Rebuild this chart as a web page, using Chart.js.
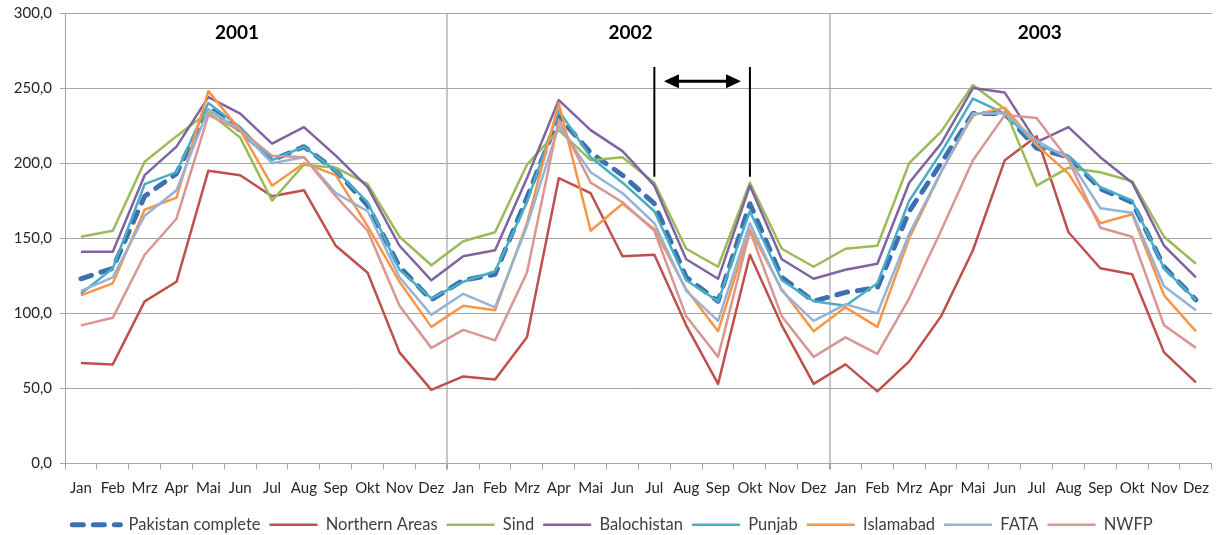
<!DOCTYPE html>
<html>
<head>
<meta charset="utf-8">
<script src="https://cdn.jsdelivr.net/npm/chart.js@4/dist/chart.umd.min.js"></script>
<style>
  html, body { margin: 0; padding: 0; background: #ffffff; }
  #wrap { width: 1219px; height: 535px; }
</style>
</head>
<body>
<div id="wrap"><canvas id="c" width="1219" height="535"></canvas></div>
<script>
// ---------- data ----------
const months = [
  'Jan','Feb','Mrz','Apr','Mai','Jun','Jul','Aug','Sep','Okt','Nov','Dez',
  'Jan','Feb','Mrz','Apr','Mai','Jun','Jul','Aug','Sep','Okt','Nov','Dez',
  'Jan','Feb','Mrz','Apr','Mai','Jun','Jul','Aug','Sep','Okt','Nov','Dez'
];
const years = ['2001', '2002', '2003'];
const seriesNames = ['Pakistan complete', 'Northern Areas', 'Sind', 'Balochistan', 'Punjab', 'Islamabad', 'FATA', 'NWFP'];

const pakistanComplete = [123,130,178,193,237,222,202,211,195,172,131,109, 122,126,177,231,207,192,173,124,108,173,124,108, 114,117,168,200,233,233,210,204,183,174,131,109];
const northernAreas    = [ 67, 66,108,121,195,192,178,182,145,127, 74, 49,  58, 56, 84,190,180,138,139, 92, 53,139, 92, 53,  66, 48, 68, 98,142,202,218,154,130,126, 74, 54];
const sind             = [151,155,201,218,234,217,175,199,197,186,151,132, 148,154,199,222,202,204,187,143,131,187,143,131, 143,145,200,221,252,236,185,197,194,188,151,133];
const balochistan      = [141,141,192,211,244,233,213,224,205,184,145,122, 138,142,190,242,222,208,185,136,123,185,136,123, 129,133,187,213,250,247,214,224,204,187,145,124];
const punjab           = [113,130,186,194,240,224,202,211,195,174,129,110, 121,128,174,235,204,187,168,122,108,168,122,108, 105,120,175,207,243,233,212,205,184,175,130,109];
const islamabad        = [112,120,169,177,248,222,185,200,192,158,121, 91, 105,102,160,240,155,173,156,116, 88,156,116, 88, 104, 91,150,194,232,237,212,193,160,166,112, 88];
const fata             = [115,124,165,182,236,222,200,204,180,168,124, 99, 113,104,158,225,194,180,160,115, 95,160,115, 95, 106,100,153,194,233,233,215,203,170,167,118,102];
const nwfp             = [ 92, 97,139,163,232,222,205,204,178,155,105, 77,  89, 82,127,229,187,174,155, 98, 71,155, 98, 71,  84, 73,110,155,202,232,230,202,157,151, 92, 77];

const seriesValues = [pakistanComplete, northernAreas, sind, balochistan, punjab, islamabad, fata, nwfp];
const seriesColors = ['#3C70B0', '#C0504D', '#9BBB59', '#8064A2', '#4BACC6', '#F79646', '#95B3D7', '#D99694'];

// ---------- chart ----------
const FONT = 'Lato, "Open Sans", sans-serif';

const datasets = seriesNames.map((name, i) => ({
  label: name,
  data: seriesValues[i],
  borderColor: seriesColors[i],
  backgroundColor: seriesColors[i],
  borderWidth: i === 0 ? 5 : 2.5,
  borderDash: i === 0 ? [11, 10] : [],
  borderCapStyle: i === 0 ? 'round' : 'butt',
  borderJoinStyle: 'round',
  pointRadius: 0,
  pointHoverRadius: 0,
  tension: 0,
  fill: false,
  order: seriesNames.length - i
}));

const annotationPlugin = {
  id: 'yearsAndArrow',
  afterDatasetsDraw(chart) {
    const ctx = chart.ctx;
    const xs = chart.scales.x, ys = chart.scales.y;
    // year labels
    const yearPos = [4.9, 17.25, 30.1];
    ctx.save();
    ctx.fillStyle = '#000000';
    ctx.font = 'bold 19px ' + FONT;
    ctx.textAlign = 'center';
    ctx.textBaseline = 'middle';
    years.forEach((y, i) => {
      ctx.fillText(y, xs.getPixelForValue(yearPos[i]), ys.getPixelForValue(287));
    });
    // bracket lines
    ctx.strokeStyle = '#000000';
    ctx.lineWidth = 2;
    const xa = xs.getPixelForValue(18), xb = xs.getPixelForValue(21);
    const yTop = ys.getPixelForValue(264), yBot = ys.getPixelForValue(191);
    ctx.beginPath();
    ctx.moveTo(xa, yTop); ctx.lineTo(xa, yBot);
    ctx.moveTo(xb, yTop); ctx.lineTo(xb, yBot);
    ctx.stroke();
    // double arrow
    const ay = ys.getPixelForValue(254.5);
    const x1 = xs.getPixelForValue(18.3), x2 = xs.getPixelForValue(20.72);
    const hl = 15, hw = 7;
    ctx.lineWidth = 3;
    ctx.beginPath();
    ctx.moveTo(x1 + hl - 2, ay); ctx.lineTo(x2 - hl + 2, ay);
    ctx.stroke();
    ctx.fillStyle = '#000000';
    ctx.beginPath();
    ctx.moveTo(x1, ay); ctx.lineTo(x1 + hl, ay - hw); ctx.lineTo(x1 + hl, ay + hw); ctx.closePath();
    ctx.fill();
    ctx.beginPath();
    ctx.moveTo(x2, ay); ctx.lineTo(x2 - hl, ay - hw); ctx.lineTo(x2 - hl, ay + hw); ctx.closePath();
    ctx.fill();
    ctx.restore();
  }
};

new Chart(document.getElementById('c'), {
  type: 'line',
  data: { labels: months, datasets },
  options: {
    responsive: false,
    animation: false,
    events: [],
    layout: { padding: { top: 13, right: 6, left: 12, bottom: -8 } },
    plugins: {
      tooltip: { enabled: false },
      title: { display: false },
      legend: {
        position: 'bottom',
        labels: {
          usePointStyle: true,
          pointStyle: 'line',
          pointStyleWidth: 48,
          font: { family: FONT, size: 16.5 },
          color: '#404040',
          padding: 9,
          sort: (a, b) => a.datasetIndex - b.datasetIndex,
          generateLabels: (chart) => {
            const items = Chart.defaults.plugins.legend.labels.generateLabels(chart);
            items.forEach((it) => {
              const ds = chart.data.datasets[it.datasetIndex];
              it.lineDash = ds.borderDash;
              it.lineCap = ds.borderCapStyle;
              it.lineWidth = ds.borderWidth;
              it.strokeStyle = ds.borderColor;
              it.fillStyle = ds.borderColor;
            });
            return items;
          }
        }
      }
    },
    scales: {
      x: {
        offset: true,
        grid: {
          offset: true,
          color: (c) => (c.index === 12 || c.index === 24) ? '#C8C8C8' : 'rgba(0,0,0,0)',
          lineWidth: (c) => (c.index === 12 || c.index === 24) ? 2 : 1,
          tickColor: '#A6A6A6',
          tickLength: 6
        },
        border: { color: '#A6A6A6', width: 1 },
        ticks: {
          autoSkip: false,
          maxRotation: 0,
          minRotation: 0,
          font: { family: FONT, size: 15 },
          color: '#262626',
          padding: 10
        }
      },
      y: {
        min: 0,
        max: 300,
        afterFit: (s) => { s.width = 53; s.paddingTop = 0; s.paddingBottom = 0; },
        ticks: {
          stepSize: 50,
          font: { family: FONT, size: 15 },
          color: '#262626',
          padding: 8,
          callback: (v) => v.toFixed(1).replace('.', ',')
        },
        grid: { color: '#A6A6A6', lineWidth: 1, tickLength: 5, tickColor: '#A6A6A6' },
        border: { color: '#A6A6A6', width: 1 }
      }
    }
  },
  plugins: [annotationPlugin]
});
</script>
</body>
</html>
